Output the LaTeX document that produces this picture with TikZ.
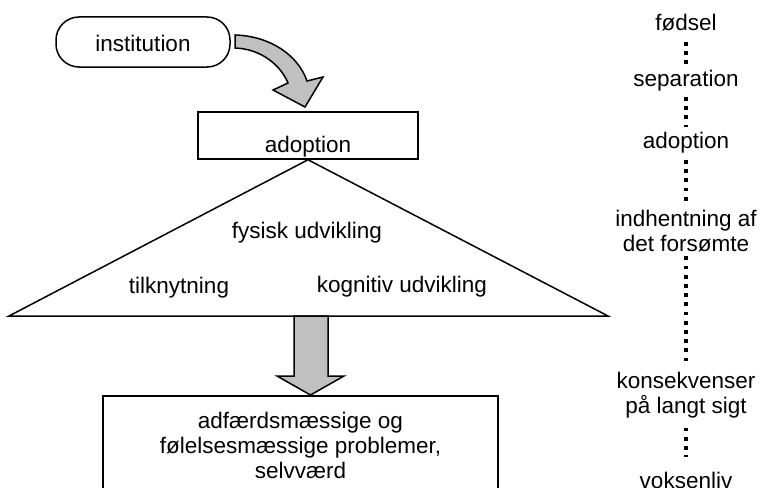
\documentclass[tikz,border=0pt]{standalone}
\usepackage{fontspec}
\setmainfont{Liberation Sans}
\definecolor{arrowgray}{HTML}{C0C0C0}
\begin{document}
\begin{tikzpicture}[x=1pt,y=-1pt,
  every node/.style={font=\fontsize{22.5}{25}\selectfont, inner sep=0pt},
  box/.style={draw, line width=1.5pt},
  lbl/.style={anchor=base},
  fat/.style={draw, line width=1.5pt, fill=arrowgray, line join=miter},
  dotline/.style={line width=4pt, dash pattern=on 3.8pt off 5.4pt}]
\clip (0,0) rectangle (762,487);
\fill[white] (0,0) rectangle (762,487);

% institution pill
\node[box, rounded corners=23pt, minimum width=174pt, minimum height=50pt,
      text height=20pt, text depth=0pt] (inst) at (143,42) {institution};

% adoption box
\node[box, minimum width=220pt, text height=40pt, text depth=7pt] (adopt) at (308,135.5) {adoption};

% curved arrow institution -> adoption
\draw[fat] (235,35) .. controls (270,36) and (298,55) .. (307,81) -- (323,77)
   -- (305,107) -- (273,90) -- (288,83) .. controls (281,66) and (262,49) .. (235,48) -- cycle;

% triangle
\coordinate (tl) at (9,316);
\coordinate (tr) at (608,316);
\draw[line width=1.5pt, line join=miter] (adopt.south) -- (tl) -- (tr) -- cycle;
\node[lbl] (fys) at (307,238) {fysisk udvikling};
\node[lbl] (tilk) at (179,293) {tilknytning};
\node[lbl] (kogn) at (402,292) {kognitiv udvikling};

% bottom box
\node[box, minimum width=395pt, minimum height=100pt, align=center, anchor=north] (prob) at (300.5,395)
  {adfærdsmæssige og\\følelsesmæssige problemer,\\selvværd};

% down arrow
\draw[fat] (294,316) -- (294,376) -- (277,376) -- (310.5,395) -- (344,376) -- (328,376) -- (328,316) -- cycle;

% right column timeline
\node[lbl] (t1) at (686,31) {fødsel};
\node[lbl] (t2) at (686,86) {separation};
\node[lbl] (t3) at (686,148) {adoption};
\node[align=center, anchor=north] (t4) at (686,209.7) {indhentning af\\det forsømte};
\node[align=center, anchor=north] (t5) at (686,371.9) {konsekvenser\\på langt sigt};
\node[lbl] (t6) at (686,488) {voksenliv};

\draw[dotline] ([yshift=-11pt]t1.base) -- ([yshift=22pt]t2.base);
\draw[dotline] ([yshift=-11pt]t2.base) -- ([yshift=21pt]t3.base);
\draw[dotline] ([yshift=-12pt]t3.base) -- ([yshift=8pt]t4.north);
\draw[dotline] ([yshift=-4.5pt]t4.south) -- ([yshift=9pt]t5.north);
\draw[dotline] ([yshift=-9.3pt]t5.south) -- ([yshift=31pt]t6.base);
\end{tikzpicture}
\end{document}
